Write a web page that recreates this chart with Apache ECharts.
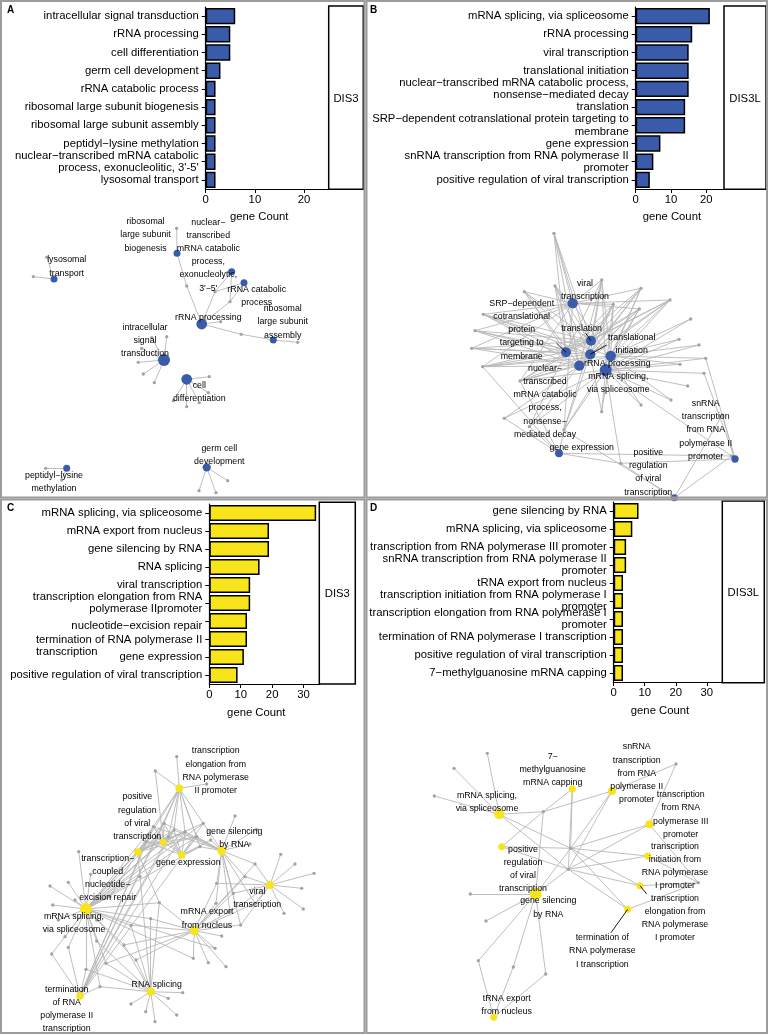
<!DOCTYPE html>
<html><head><meta charset="utf-8">
<script src="https://cdn.jsdelivr.net/npm/echarts@6/dist/echarts.min.js"></script>
<style>html,body{margin:0;padding:0;background:#fff}#c{width:769px;height:1036px}</style>
</head><body><div id="c"></div>
<script>
const FONT = "'Liberation Sans', Arial, Helvetica, sans-serif";
const BLUE = '#3A5BAA';
const YELLOW = '#F7E41A';

// ---------- bar panels ----------
const barCatsA = ["intracellular signal transduction","rRNA processing","cell differentiation","germ cell development","rRNA catabolic process","ribosomal large subunit biogenesis","ribosomal large subunit assembly","peptidyl−lysine methylation","nuclear−transcribed mRNA catabolic\nprocess, exonucleolitic, 3'-5'","lysosomal transport"];
const barValsA = [6,5,5,3,2,2,2,2,2,2];
const barCatsB = ["mRNA splicing, via spliceosome","rRNA processing","viral transcription","translational initiation","nuclear−transcribed mRNA catabolic process,\nnonsense−mediated decay","translation","SRP−dependent cotranslational protein targeting to\nmembrane","gene expression","snRNA transcription from RNA polymerase II\npromoter","positive regulation of viral transcription"];
const barValsB = [21,16,15,15,15,14,14,7,5,4];
const barCatsC = ["mRNA splicing, via spliceosome","mRNA export from nucleus","gene silencing by RNA","RNA splicing","viral transcription","transcription elongation from RNA\npolymerase IIpromoter","nucleotide−excision repair","termination of RNA polymerase II\ntranscription","gene expression","positive regulation of viral transcription"];
const barValsC = [34,19,19,16,13,13,12,12,11,9];
const barCatsD = ["gene silencing by RNA","mRNA splicing, via spliceosome","transcription from RNA polymerase III promoter","snRNA transcription from RNA polymerase II\npromoter","tRNA export from nucleus","transcription initiation from RNA polymerase I\npromoter","transcription elongation from RNA polymerase I\npromoter","termination of RNA polymerase I transcription","positive regulation of viral transcription","7−methylguanosine mRNA capping"];
const barValsD = [8,6,4,4,3,3,3,3,3,3];
const xTicksAB = [0,10,20];
const xTicksCD = [0,10,20,30];
const xMaxAB = 25, xMaxCD = 35;
const xTitle = "gene Count";
const stripLabels = ["DIS3","DIS3L","DIS3","DIS3L"];
const panelLetters = ["A","B","C","D"];

// ---------- network A ----------
const netA_terms = ["lysosomal\ntransport","ribosomal\nlarge subunit\nbiogenesis","nuclear−\ntranscribed\nmRNA catabolic\nprocess,\nexonucleolytic,\n3'−5'","rRNA catabolic\nprocess","rRNA processing","ribosomal\nlarge subunit\nassembly","intracellular\nsignal\ntransduction","cell\ndifferentiation","germ cell\ndevelopment","peptidyl−lysine\nmethylation"];
const netA_count = [2,2,2,2,5,2,6,5,3,2];
const netA_termXY = [[54,279],[177,253.3],[231.7,271.7],[244,282.7],[201.7,324],[273.3,340],[164,360],[186.7,379.3],[206.7,467.3],[66.7,468.3]];
const netA_labelXY = [[66.7,266.5],[145.5,235],[208.3,255.2],[256.7,295.8],[208.3,317.3],[282.7,322],[145,340.5],[199.3,392.3],[219.3,454.8],[54,481.8]];
const netA_genes = [[46.7,257.3],[33.3,276.7],[176.7,228.3],[186.7,286],[215,291.7],[230,301.7],[220.7,321.7],[241.3,334.3],[297.7,342.3],[166.7,336.7],[151.7,337.7],[141.7,348.3],[138.3,362.3],[143.3,374],[154.3,382.7],[209.3,376.7],[208.3,392.7],[199.3,402.7],[186.7,406.7],[173.3,400.7],[227.7,480.7],[216,492.7],[199,490.7],[45.7,468.3],[61.7,480]];
const netA_members = [[0,1],[2,3],[4,5],[4,5],[3,4,5,6,7],[7,8],[9,10,11,12,13,14],[15,16,17,18,19],[20,21,22],[23,24]];
const netA_leaders = [];

// ---------- network B ----------
const netB_terms = ["viral\ntranscription","SRP−dependent\ncotranslational\nprotein\ntargeting to\nmembrane","translation","translational\ninitiation","rRNA processing","nuclear−\ntranscribed\nmRNA catabolic\nprocess,\nnonsense−\nmediated decay","mRNA splicing,\nvia spliceosome","gene expression","snRNA\ntranscription\nfrom RNA\npolymerase II\npromoter","positive\nregulation\nof viral\ntranscription"];
const netB_count = [15,14,14,15,16,15,21,7,5,4];
const netB_termXY = [[572.7,303.3],[566,352.3],[591,340.7],[590.3,354.3],[610.7,356],[579.3,365.7],[605.7,370],[559,453.3],[735,459],[674.3,497.7]];
const netB_labelXY = [[585,290],[521.7,329.7],[581.7,329],[631.7,344],[617.3,363.3],[545,401.3],[618.3,382.7],[581.7,447.7],[705.7,430],[648.3,472.3]];
const netB_genes = [[524.3,291.7],[555,286],[483.3,314.3],[475,330.7],[471.7,348.3],[482.7,366.7],[520,381],[554,233.3],[601.7,280],[641,288.3],[670,300],[613.3,304.3],[639.3,309],
  [690.7,319],[679,339.3],[699,345],[705.7,358.3],[680,364.3],[704,373.3],[687.7,386],[671,400],[641,405],[601.7,411.7],
  [504.3,418.3],[564,430],[620.7,463.3],[722.3,415],[529.3,426.7],[731.7,456]];
const netB_members = [
  [0,1,2,3,4,5,6,7,8,9,10,11,12,24,21],
  [0,1,2,3,4,5,6,7,8,9,10,11,12,27],
  [0,1,2,3,4,5,6,7,8,9,10,11,12,24],
  [0,1,2,3,4,5,6,7,8,9,10,11,12,24,22],
  [2,5,6,8,9,10,11,12,13,14,15,16,17,20,24,22],
  [0,1,2,3,4,5,6,7,8,9,10,11,12,27,23],
  [13,14,15,16,17,18,19,20,21,22,23,24,25,27,8,9,10,11,12,6,28],
  [23,27,24,28,25,5,6],
  [28,26,25,18,16],
  [25,26,28,24]];
const netB_leaders = [[[585.7,333.3],[591,340.7]],[[556.7,343.3],[566,352.3]],[[606.7,345],[590.3,354.3]]];

// ---------- network C ----------
const netC_terms = ["mRNA splicing,\nvia spliceosome","mRNA export\nfrom nucleus","gene silencing\nby RNA","RNA splicing","viral\ntranscription","transcription\nelongation from\nRNA polymerase\nII promoter","transcription−\ncoupled\nnucleotide−\nexcision repair","termination\nof RNA\npolymerase II\ntranscription","gene expression","positive\nregulation\nof viral\ntranscription"];
const netC_count = [34,19,19,16,13,13,12,12,11,9];
const netC_termXY = [[86,909],[194.3,930.7],[221.7,850.7],[150.7,991.7],[270,885],[179.3,788.3],[137.7,852],[80,996],[181.7,855],[163.3,842.3]];
const netC_labelXY = [[74,923],[207,918.5],[234.3,837.7],[156.7,985],[257.3,897.7],[215.7,770.8],[107.7,878],[66.7,1009.2],[188.3,862.3],[137.3,816.7]];
const netC_genes = [[153.3,826.7],[164,823.3],[174,830],[185,831.7],[156.7,836.7],[168.3,836.7],[146,841.7],[196.7,836.7],[203.3,823.3],[200,846.7],
  [176.7,756.7],[155.3,771],[206.7,784],
  [216.7,883.3],[255,864],[240.7,925],[255,903.3],[233.3,893.3],[245,876.7],[230,911.7],[216,903.3],
  [280.7,854.3],[295,864],[314,873.3],[301.7,888.3],[303.3,909],[284,913.3],
  [235,816],[250,844],[256.7,829.3],[210.7,840],
  [221.7,936],[226,966.7],[208.3,962.7],[193.3,958.3],[215,948.3],
  [159.3,902.7],[150.7,918.7],[131,925.3],[124,945],[136,960],[106,963.3],
  [182.7,992.7],[176.7,1015],[155,1021.7],[145.7,1011.7],[131,1004],[168.3,998.3],
  [96.7,941],[100,986.7],[86,969.3],[140,876.7],
  [50,886],[68.3,882.3],[78.7,851.7],[90.7,874.3],[52.7,905],[58.3,920],[51.7,954],[68.3,947.3],[65,936.7],[96.7,920],[110,896.7],[75,900]];
const netC_members = [
  [36,37,38,39,40,41,48,49,50,51,52,53,54,55,56,57,58,59,60,61,62,63,0,1,2,3,4,5,6,7,8,9,34,35],
  [13,14,15,16,17,18,19,20,31,32,33,34,35,36,37,38,39,40,41],
  [13,14,15,16,17,18,19,20,27,28,29,30,8,9,0,1,2,3,7],
  [36,37,38,39,40,41,42,43,44,45,46,47,48,49,50,51],
  [13,14,15,16,17,18,19,21,22,23,24,25,26],
  [0,1,2,3,4,5,6,7,10,11,12,8,9],
  [0,1,2,3,4,5,6,7,62,51,8,36],
  [0,1,2,3,4,5,6,7,49,50,58,59],
  [0,1,2,3,4,5,6,7,8,9,30],
  [0,1,2,3,4,5,6,7,11]];
const netC_leaders = [];

// ---------- network D ----------
const netD_terms = ["gene silencing\nby RNA","mRNA splicing,\nvia spliceosome","transcription\nfrom RNA\npolymerase III\npromoter","snRNA\ntranscription\nfrom RNA\npolymerase II\npromoter","tRNA export\nfrom nucleus","transcription\ninitiation from\nRNA polymerase\nI promoter","transcription\nelongation from\nRNA polymerase\nI promoter","termination of\nRNA polymerase\nI transcription","positive\nregulation\nof viral\ntranscription","7−\nmethylguanosine\nmRNA capping"];
const netD_count = [8,6,4,4,3,3,3,3,3,3];
const netD_termXY = [[535.7,894],[499.3,814.3],[649.3,824.3],[612,791],[493.7,1017.3],[647.7,856],[640,885.7],[627.7,909.3],[501.7,846.7],[572.3,789]];
const netD_labelXY = [[548.3,907.5],[487,801.7],[680.7,814.5],[636.7,773.3],[506.7,1005],[675,866],[675,918],[602.3,950.9],[523,869],[552.7,769.8]];
const netD_genes = [[487.3,753.3],[454,768.3],[434.3,796],[543.3,811.7],[570.7,848.3],[568.3,869.3],[676,764],[698.3,882.7],[470.3,894],[486,921],[478.3,960.7],[513.3,967],[545.7,974]];
const netD_members = [[3,5,8,9,10,11,12,4],[0,1,2,3,4,5],[4,5,6,7],[3,5,6,4],[10,11,12],[4,5,7],[4,5,7],[5,7,4],[3,4,5],[3,4,5]];
const netD_leaders = [[[646.7,894],[640,885.7]],[[611,932.7],[627.7,909.3]]];

// ---------- option building ----------
const option = {animation:false, textStyle:{fontFamily:FONT}, grid:[], xAxis:[], yAxis:[], series:[], graphic:[]};

function addBar(rect, cats, vals, ticks, xmax, color, nameGap, fmt, rich){
  const gi = option.grid.length;
  option.grid.push({left:rect[0], top:rect[1], width:rect[2], height:rect[3]});
  option.xAxis.push({type:'value', gridIndex:gi, min:0, max:xmax,
    axisLine:{show:true, onZero:false, lineStyle:{color:'#000', width:1.2}},
    axisTick:{show:true, length:4, lineStyle:{color:'#000', width:1}, customValues:ticks},
    axisLabel:{show:true, customValues:ticks, fontSize:11.3, color:'#000', margin:5, fontFamily:FONT},
    splitLine:{show:false},
    name:xTitle, nameLocation:'middle', nameGap:nameGap,
    nameTextStyle:{fontSize:11.3, color:'#000', fontFamily:FONT, padding:[0,16,0,0]}});
  const yl = {interval:0, fontSize:11.3, lineHeight:12.5, color:'#000', margin:7, fontFamily:FONT};
  if (fmt) { yl.formatter = fmt; yl.rich = rich; }
  option.yAxis.push({type:'category', gridIndex:gi, inverse:true, data:cats,
    axisLine:{show:true, lineStyle:{color:'#000', width:1.2}},
    axisTick:{show:true, alignWithLabel:true, length:4, lineStyle:{color:'#000', width:1}},
    axisLabel:yl, splitLine:{show:false}});
  option.series.push({type:'bar', xAxisIndex:gi, yAxisIndex:gi, data:vals, barWidth:'90%', silent:true,
    itemStyle:{color:color, borderColor:'#000', borderWidth:1.5}});
}

function addNet(bounds, terms, counts, termXY, labelXY, genes, members, leaders, color){
  const gi = option.grid.length;
  option.grid.push({left:bounds[0], top:bounds[1], width:bounds[2]-bounds[0], height:bounds[3]-bounds[1]});
  option.xAxis.push({type:'value', gridIndex:gi, min:bounds[0], max:bounds[2], show:false, splitLine:{show:false}});
  option.yAxis.push({type:'value', gridIndex:gi, min:bounds[1], max:bounds[3], inverse:true, show:false, splitLine:{show:false}});
  const cmin = Math.min(...counts), cmax = Math.max(...counts);
  const nodes = [];
  genes.forEach((g,i)=>nodes.push({id:'g'+i, name:'g'+i, value:g, symbolSize:3.3, itemStyle:{color:'#a3a3a3'}}));
  terms.forEach((t,i)=>nodes.push({id:'t'+i, name:'t'+i, value:termXY[i],
    symbolSize:7 + 5*(counts[i]-cmin)/(cmax-cmin), itemStyle:{color:color}}));
  const links = [];
  members.forEach((m,i)=>m.forEach(g=>links.push({source:'t'+i, target:'g'+g})));
  option.series.push({type:'graph', coordinateSystem:'cartesian2d', xAxisIndex:gi, yAxisIndex:gi, layout:'none',
    data:nodes, links:links, silent:true, roam:false,
    lineStyle:{color:'#b8b8b8', width:0.9, opacity:1, curveness:0},
    label:{show:false}, emphasis:{disabled:true}, z:2});
  if (leaders.length) option.series.push({type:'lines', coordinateSystem:'cartesian2d', xAxisIndex:gi, yAxisIndex:gi,
    data:leaders.map(c=>({coords:c})), lineStyle:{color:'#000', width:0.9, opacity:1}, silent:true, z:4});
  option.series.push({type:'scatter', xAxisIndex:gi, yAxisIndex:gi,
    data:terms.map((t,i)=>({value:labelXY[i], name:t})), symbolSize:1, itemStyle:{color:'rgba(0,0,0,0)'},
    silent:true, z:5,
    label:{show:true, position:'inside', formatter:p=>p.name, fontSize:8.8, lineHeight:13.2,
      color:'#000', textBorderWidth:0, textBorderColor:'transparent', textShadowBlur:0, opacity:1,
      fontFamily:FONT, align:'center', verticalAlign:'middle'}});
}

const richC = {
  sp10:{height:10, lineHeight:10, fontSize:1},
  sp14:{height:14, lineHeight:14, fontSize:1},
  t:{fontSize:11.3, lineHeight:12.5, color:'#000', fontFamily:FONT},
  l:{fontSize:11.3, lineHeight:12.5, color:'#000', fontFamily:FONT, align:'left'}
};
function fmtC(v){
  if (v === barCatsC[6]) return '{sp10| }\n{t|' + v + '}';
  if (v === barCatsC[7]) { const p = v.split('\n'); return '{sp14| }\n{t|' + p[0] + '}\n{l|' + p[1] + '}'; }
  return v;
}

addBar([205.7,7,123,182], barCatsA, barValsA, xTicksAB, xMaxAB, BLUE, 22);
addBar([635.7,7,88.3,182], barCatsB, barValsB, xTicksAB, xMaxAB, BLUE, 22);
addBar([209.3,504,110,180], barCatsC, barValsC, xTicksCD, xMaxCD, YELLOW, 23, fmtC, richC);
addBar([613.7,502,108.6,180], barCatsD, barValsD, xTicksCD, xMaxCD, YELLOW, 23);

addNet([0,0,365,498], netA_terms, netA_count, netA_termXY, netA_labelXY, netA_genes, netA_members, netA_leaders, BLUE);
addNet([366,0,768,498], netB_terms, netB_count, netB_termXY, netB_labelXY, netB_genes, netB_members, netB_leaders, BLUE);
addNet([0,499,365,1035], netC_terms, netC_count, netC_termXY, netC_labelXY, netC_genes, netC_members, netC_leaders, YELLOW);
addNet([366,499,768,1035], netD_terms, netD_count, netD_termXY, netD_labelXY, netD_genes, netD_members, netD_leaders, YELLOW);

// strips (facet labels)
const stripRects = [[328.7,6,34.6,183.3],[724,6,42,183.3],[319.3,502.3,36,181.7],[722.3,501,42,181.7]];
stripRects.forEach((r,i)=>{
  option.graphic.push({type:'rect', shape:{x:r[0], y:r[1], width:r[2], height:r[3]},
    style:{fill:'#fff', stroke:'#000', lineWidth:1.5}, z:50, silent:true});
  option.graphic.push({type:'text', x:r[0]+r[2]/2, y:r[1]+r[3]/2+1, z:51, silent:true,
    style:{text:stripLabels[i], font:'11.3px ' + FONT, fill:'#000', textAlign:'center', textVerticalAlign:'middle'}});
});
// panel frames
const frames = [[1,1,363.5,496.5],[366.5,1,400.5,496.5],[1,499.5,363.5,533.5],[366.5,499.5,400.5,533.5]];
frames.forEach(f=>option.graphic.push({type:'rect', shape:{x:f[0], y:f[1], width:f[2], height:f[3]},
  style:{fill:'none', stroke:'#9c9c9c', lineWidth:2}, z:100, silent:true}));
const letterPos = [[7,5],[370,5],[7,503.5],[370,503.5]];
letterPos.forEach((p,i)=>option.graphic.push({type:'text', x:p[0], y:p[1], z:101, silent:true,
  style:{text:panelLetters[i], font:'bold 10px ' + FONT, fill:'#000', textAlign:'left', textVerticalAlign:'top'}}));

const chart = echarts.init(document.getElementById('c'), null, {renderer:'canvas'});
chart.setOption(option);
</script>
</body></html>
